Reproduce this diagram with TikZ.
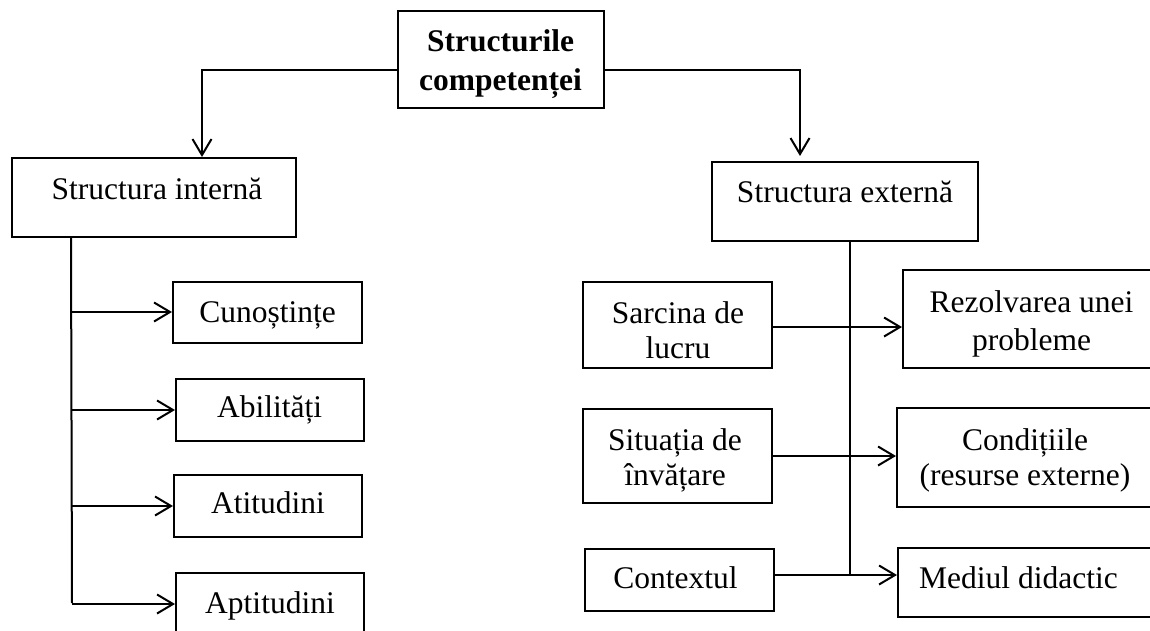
\documentclass[tikz,border=0pt]{standalone}
\usepackage{fontspec}
\setmainfont{Liberation Serif}
\usetikzlibrary{arrows.meta}
% stacked lines whose baseline is that of the first line
\newcommand{\stk}[1]{\begin{tabular}[t]{@{}c@{}}#1\end{tabular}}

\begin{document}
\begin{tikzpicture}[x=1pt,y=-1pt,
  box/.style={draw, line width=2pt, rectangle, inner sep=0pt},
  lbl/.style={anchor=base, inner sep=0pt, font=\fontsize{31.5}{36}\selectfont},
  link/.style={line width=2pt},
  arr/.style={link, -{Straight Barb[length=16pt,width=19pt]}}]
\useasboundingbox (0,0) rectangle (1150,631);
\clip (0,0) rectangle (1150,631);

% boxes
\node[box, minimum width=206pt, minimum height=97pt] (top) at (501,59.5) {};
\node[box, minimum width=284pt, minimum height=79pt] (int) at (154,197.5) {};
\node[box, minimum width=266pt, minimum height=79pt] (ext) at (845,201.5) {};

\node[box, minimum width=189pt, minimum height=61pt] (cun) at (267.5,312) {};
\node[box, minimum width=188pt, minimum height=62pt] (abi) at (270,410) {};
\node[box, minimum width=188pt, minimum height=62pt] (ati) at (268,506) {};
\node[box, minimum width=188pt, minimum height=62pt] (apt) at (270,604) {};

\node[box, minimum width=189pt, minimum height=86pt] (sar) at (677.5,325) {};
\node[box, minimum width=189pt, minimum height=94pt] (sit) at (677.5,456) {};
\node[box, minimum width=189pt, minimum height=62pt] (ctx) at (679.5,580) {};

\node[box, minimum width=257pt, minimum height=98pt] (rez) at (1031.5,319) {};
\node[box, minimum width=256pt, minimum height=99pt] (con) at (1025,457.5) {};
\node[box, minimum width=262pt, minimum height=69pt] (med) at (1029,582.5) {};

% texts
\node[lbl, font=\fontsize{31.5}{39}\selectfont\bfseries] (ttop) at (500.5,52) {\stk{Structurile\\competenței}};
\node[lbl] (tint) at (157,199) {Structura internă};
\node[lbl] (text) at (845,202) {Structura externă};
\node[lbl] (tcun) at (267.5,322) {Cunoștințe};
\node[lbl] (tabi) at (269.5,417) {Abilități};
\node[lbl] (tati) at (268,513) {Atitudini};
\node[lbl] (tapt) at (270,613) {Aptitudini};
\node[lbl, font=\fontsize{31.5}{35}\selectfont] (tsar) at (678,323) {\stk{Sarcina de\\lucru}};
\node[lbl, font=\fontsize{31.5}{35}\selectfont] (tsit) at (675,450) {\stk{Situația de\\învățare}};
\node[lbl] (tctx) at (675.5,588) {Contextul};
\node[lbl, font=\fontsize{31.5}{38}\selectfont] (trez) at (1031.5,312) {\stk{Rezolvarea unei\\probleme}};
\node[lbl, font=\fontsize{31.5}{35}\selectfont] (tcon) at (1025,450) {\stk{Condițiile\\(resurse externe)}};
\node[lbl] (tmed) at (1018.5,588) {Mediul didactic};

% top-level links
\draw[arr] ([yshift=-10.5pt]top.west) -| ([xshift=48pt]int.north);
\draw[arr] ([yshift=-10.5pt]top.east) -| ([xshift=-45pt,yshift=5pt]ext.north);

% internal structure: spine and branches
\coordinate (ispine) at (72,603);
\draw[link] ([xshift=60pt]int.south west) -- (ispine);
\foreach \b in {cun,abi,ati,apt}
  \draw[arr] (\b.west -| ispine) -- (\b.west);

% external structure: spine and crossing links
\coordinate (espine) at (850,575);
\draw[link] ([xshift=5pt]ext.south) -- (espine);
\draw[arr] ([yshift=-2pt]sar.east) -- ([yshift=-2pt]sar.east -| rez.west);
\draw[arr] (sit.east) -- (sit.east -| con.west);
\draw[arr] ([yshift=5pt]ctx.east) -- ([yshift=5pt]ctx.east -| med.west);
\end{tikzpicture}
\end{document}
